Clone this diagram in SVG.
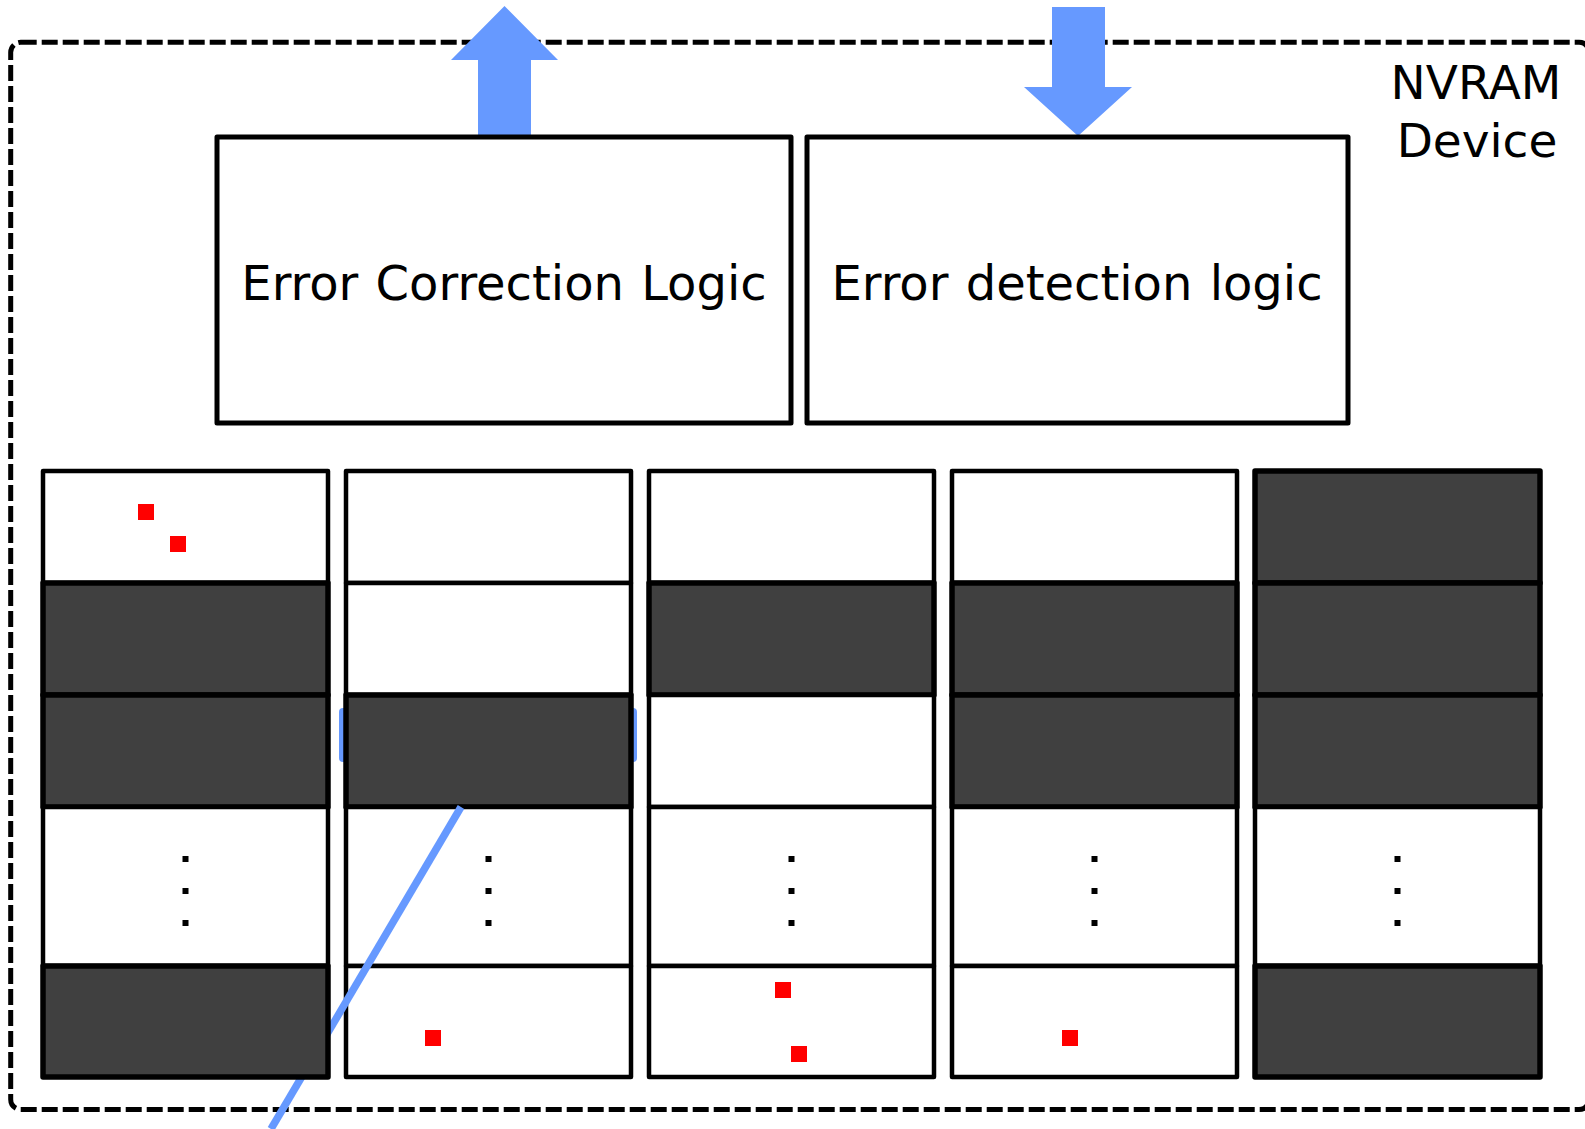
<svg xmlns="http://www.w3.org/2000/svg" width="1585" height="1129" viewBox="0 0 1585 1129">
<style>
.box{fill:#fff;stroke:#000;stroke-width:5;stroke-linejoin:round}
.w{fill:#fff;stroke:#000;stroke-width:4.5;stroke-linejoin:round}
.d{fill:#404040;stroke:#000;stroke-width:5.5;stroke-linejoin:round}
.err{fill:#ff0000}
.dot{fill:#000}
.lbl{font-family:"DejaVu Sans","Verdana",sans-serif;font-size:48px;fill:#000;text-anchor:middle;word-spacing:2px}
.blue{fill:#6699ff}
</style>
<rect width="1585" height="1129" fill="#fff"/>
<g id="nvram-device">
<rect x="10.7" y="42.3" width="1578.3" height="1067.2" rx="10" fill="none" stroke="#000" stroke-width="5" stroke-dasharray="16 5"/>
<text class="lbl" x="1476" y="99" style="font-size:47px">NVRAM</text>
<text class="lbl" x="1477" y="157" style="font-size:47px">Device</text>
</g>
<rect id="selection-highlight" class="blue" x="339" y="708" width="298" height="54" rx="4"/>
<g id="column-2">
<rect class="w" x="346" y="471" width="285" height="112"/>
<rect class="w" x="346" y="583" width="285" height="112"/>
<rect class="d" x="346" y="695" width="285" height="112"/>
<rect class="w" x="346" y="807" width="285" height="159"/>
<rect class="w" x="346" y="966" width="285" height="111"/>
<rect class="dot" x="485.5" y="856" width="6" height="6"/><rect class="dot" x="485.5" y="888" width="6" height="6"/><rect class="dot" x="485.5" y="920" width="6" height="6"/>
<rect class="err" x="425" y="1030" width="16" height="16"/>
</g>
<g id="column-3">
<rect class="w" x="649" y="471" width="285" height="112"/>
<rect class="d" x="649" y="583" width="285" height="112"/>
<rect class="w" x="649" y="695" width="285" height="112"/>
<rect class="w" x="649" y="807" width="285" height="159"/>
<rect class="w" x="649" y="966" width="285" height="111"/>
<rect class="dot" x="788.5" y="856" width="6" height="6"/><rect class="dot" x="788.5" y="888" width="6" height="6"/><rect class="dot" x="788.5" y="920" width="6" height="6"/>
<rect class="err" x="775" y="982" width="16" height="16"/>
<rect class="err" x="791" y="1046" width="16" height="16"/>
</g>
<g id="column-4">
<rect class="w" x="952" y="471" width="285" height="112"/>
<rect class="d" x="952" y="583" width="285" height="112"/>
<rect class="d" x="952" y="695" width="285" height="112"/>
<rect class="w" x="952" y="807" width="285" height="159"/>
<rect class="w" x="952" y="966" width="285" height="111"/>
<rect class="dot" x="1091.5" y="856" width="6" height="6"/><rect class="dot" x="1091.5" y="888" width="6" height="6"/><rect class="dot" x="1091.5" y="920" width="6" height="6"/>
<rect class="err" x="1062" y="1030" width="16" height="16"/>
</g>
<g id="column-5">
<rect class="d" x="1255" y="471" width="285" height="112"/>
<rect class="d" x="1255" y="583" width="285" height="112"/>
<rect class="d" x="1255" y="695" width="285" height="112"/>
<rect class="w" x="1255" y="807" width="285" height="159"/>
<rect class="d" x="1255" y="966" width="285" height="111"/>
<rect class="dot" x="1394.5" y="856" width="6" height="6"/><rect class="dot" x="1394.5" y="888" width="6" height="6"/><rect class="dot" x="1394.5" y="920" width="6" height="6"/>
</g>
<g id="connectors">
<polygon class="blue" points="478,137 478,60 451,60 504.5,6 558,60 531,60 531,137"/>
<polygon class="blue" points="1052,7 1105,7 1105,87 1132,87 1078,136 1024,87 1052,87"/>
<line x1="461" y1="807" x2="271" y2="1129" stroke="#6699ff" stroke-width="7.5"/>
</g>
<g id="column-1">
<rect class="w" x="43" y="471" width="285" height="112"/>
<rect class="d" x="43" y="583" width="285" height="112"/>
<rect class="d" x="43" y="695" width="285" height="112"/>
<rect class="w" x="43" y="807" width="285" height="159"/>
<rect class="d" x="43" y="966" width="285" height="111"/>
<rect class="dot" x="182.5" y="856" width="6" height="6"/><rect class="dot" x="182.5" y="888" width="6" height="6"/><rect class="dot" x="182.5" y="920" width="6" height="6"/>
<rect class="err" x="138" y="504" width="16" height="16"/>
<rect class="err" x="170" y="536" width="16" height="16"/>
</g>
<g id="error-correction-logic">
<rect class="box" x="217" y="137" width="574" height="286"/>
<text class="lbl" x="504" y="300">Error Correction Logic</text>
</g>
<g id="error-detection-logic">
<rect class="box" x="807" y="137" width="541" height="286"/>
<text class="lbl" x="1077" y="300">Error detection logic</text>
</g>
</svg>
